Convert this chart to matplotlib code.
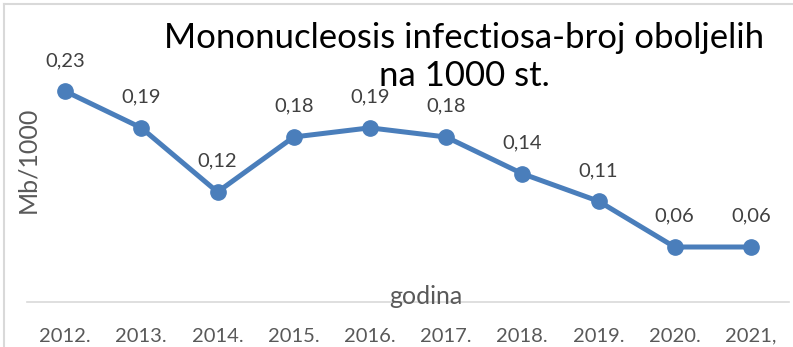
import matplotlib
matplotlib.use("Agg")
import matplotlib.pyplot as plt
from matplotlib.lines import Line2D

plt.rcParams['font.family'] = ['Lato', 'DejaVu Sans']

years = ["2012.", "2013.", "2014.", "2015.", "2016.", "2017.", "2018.", "2019.", "2020.", "2021,"]
rates = [0.23, 0.19, 0.12, 0.18, 0.19, 0.18, 0.14, 0.11, 0.06, 0.06]
title = "Mononucleosis infectiosa-broj oboljelih\nna 1000 st."
ylabel = "Mb/1000"
xlabel = "godina"

W, H = 793, 347
fig = plt.figure(figsize=(W / 100, H / 100), dpi=100)
fig.patch.set_facecolor("white")

# plot area in pixel units
left, right, bottom, top = 27, 789, 302, 27
ax = fig.add_axes([left / W, 1 - bottom / H, (right - left) / W, (bottom - top) / H])
ax.set_facecolor("none")

line_color = "#4A7EBB"
x = list(range(len(years)))
ax.plot(x, rates, color=line_color, lw=3.6, marker="o", ms=11,
        solid_capstyle="round", solid_joinstyle="round", zorder=3)

for xi, v in zip(x, rates):
    ax.annotate(f"{v:.2f}".replace(".", ","), (xi, v), xytext=(0, 16),
                textcoords="offset points", ha="center", va="bottom",
                fontsize=14.5, color="#404040")

ax.set_xlim(-0.5, len(years) - 0.5)
ax.set_ylim(0, 0.3)
ax.set_xticks(x)
ax.set_xticklabels(years, fontsize=14.5, color="#595959")
ax.tick_params(axis="x", length=0, pad=18.5)
ax.set_yticks([])
for s in ["top", "right", "left"]:
    ax.spines[s].set_visible(False)
ax.spines["bottom"].set_color("#D9D9D9")
ax.spines["bottom"].set_linewidth(1.2)

# titles and axis labels
fig.text(464 / W, 1 - 57 / H, title, ha="center", va="center",
         fontsize=25, color="black", linespacing=1.25)
fig.text(28 / W, 1 - 160 / H, ylabel, rotation=90, ha="center", va="center",
         fontsize=18, color="#595959")
fig.text(426 / W, 1 - 297 / H, xlabel, ha="center", va="center",
         fontsize=18, color="#595959")

# chart border (top and left edges)
fig.add_artist(Line2D([4 / W, 1], [1 - 4 / H, 1 - 4 / H], color="#D9D9D9", lw=1.5,
                      transform=fig.transFigure))
fig.add_artist(Line2D([4 / W, 4 / W], [0, 1 - 4 / H], color="#D9D9D9", lw=1.5,
                      transform=fig.transFigure))

fig.savefig("out.png", dpi=100)
